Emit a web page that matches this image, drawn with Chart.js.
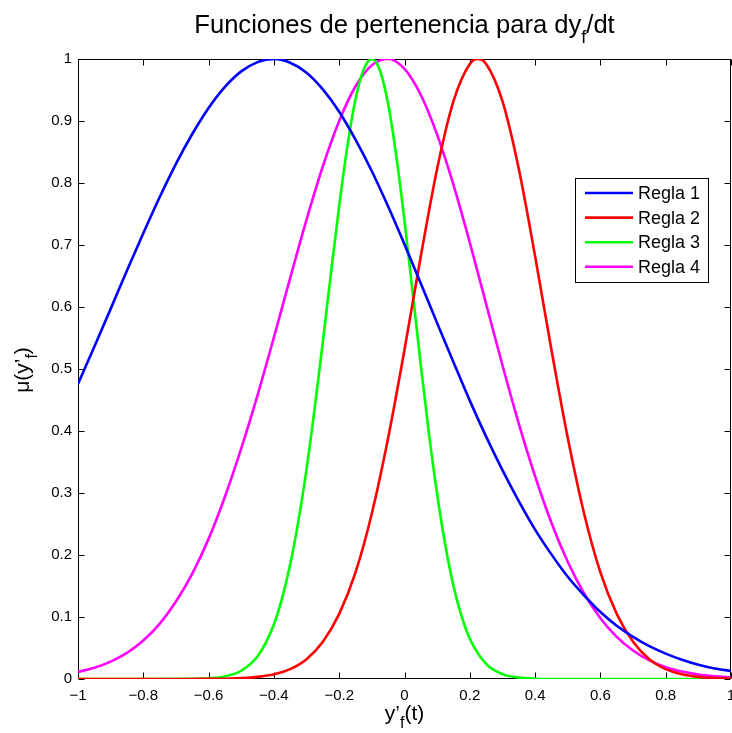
<!DOCTYPE html>
<html>
<head>
<meta charset="utf-8">
<script src="https://cdn.jsdelivr.net/npm/chart.js@4.4.1/dist/chart.umd.min.js"></script>
<style>
  body { margin: 0; background: #fff; }
  canvas { display: block; }
</style>
</head>
<body>
<canvas id="chart" width="732" height="733"></canvas>
<script>
// values
const seriesNames = ["Regla 1", "Regla 2", "Regla 3", "Regla 4"];
const seriesColors = ["#0000ff", "#ff0000", "#00ff00", "#ff00ff"];

const xBase = [-1, -0.95, -0.9, -0.85, -0.8, -0.75, -0.7, -0.65, -0.6, -0.55, -0.5,
  -0.45, -0.4, -0.35, -0.3, -0.25, -0.2, -0.15, -0.1, -0.05, 0,
  0.05, 0.1, 0.15, 0.2, 0.25, 0.3, 0.35, 0.4, 0.45, 0.5,
  0.55, 0.6, 0.65, 0.7, 0.75, 0.8, 0.85, 0.9, 0.95, 1];

const regla1 = [0.476, 0.536, 0.597, 0.659, 0.719, 0.777, 0.831, 0.879, 0.921, 0.955, 0.980,
  0.995, 1.000, 0.994, 0.978, 0.951, 0.915, 0.870, 0.819, 0.762, 0.701,
  0.638, 0.574, 0.511, 0.449, 0.391, 0.337, 0.287, 0.241, 0.201, 0.165,
  0.135, 0.108, 0.086, 0.068, 0.053, 0.041, 0.031, 0.023, 0.017, 0.013];

const xRegla2 = [-1, -0.9, -0.8, -0.7, -0.65, -0.6, -0.55, -0.5, -0.45, -0.4, -0.35,
  -0.3, -0.25, -0.2, -0.15, -0.1, -0.05, 0, 0.05, 0.1, 0.15, 0.2, 0.225,
  0.25, 0.3, 0.35, 0.4, 0.45, 0.5, 0.55, 0.6, 0.65, 0.7, 0.75, 0.8,
  0.85, 0.9, 0.95, 1];
const regla2 = [0, 0, 0, 0, 0.0001, 0.0002, 0.0005, 0.0014, 0.0034, 0.0076, 0.016,
  0.032, 0.060, 0.105, 0.172, 0.267, 0.389, 0.531, 0.682, 0.823, 0.932, 0.992, 1.000,
  0.992, 0.932, 0.823, 0.682, 0.531, 0.389, 0.267, 0.172, 0.105, 0.060, 0.032, 0.016,
  0.0076, 0.0034, 0.0014, 0.0005];

const xRegla3 = [-1, -0.8, -0.65, -0.6, -0.55, -0.5, -0.45, -0.4, -0.375, -0.35, -0.325,
  -0.3, -0.275, -0.25, -0.225, -0.2, -0.175, -0.15, -0.125, -0.1, -0.075,
  -0.05, -0.025, 0, 0.025, 0.05, 0.075, 0.1, 0.125, 0.15, 0.175,
  0.2, 0.25, 0.3, 0.35, 0.4, 0.5, 0.7, 1];
const regla3 = [0, 0, 0.0003, 0.0012, 0.0042, 0.0133, 0.0365, 0.088, 0.130, 0.185, 0.255,
  0.339, 0.437, 0.544, 0.656, 0.763, 0.859, 0.935, 0.983, 1.000, 0.981,
  0.927, 0.843, 0.739, 0.623, 0.506, 0.395, 0.298, 0.216, 0.150, 0.101,
  0.065, 0.0244, 0.0078, 0.0022, 0.0005, 0, 0, 0];

const regla4 = [0.0115, 0.018, 0.028, 0.042, 0.062, 0.089, 0.125, 0.170, 0.226, 0.294, 0.372,
  0.458, 0.551, 0.647, 0.741, 0.827, 0.900, 0.956, 0.990, 1.000, 0.984,
  0.942, 0.878, 0.797, 0.704, 0.605, 0.506, 0.412, 0.327, 0.252, 0.189,
  0.138, 0.098, 0.068, 0.046, 0.030, 0.019, 0.012, 0.0072, 0.0043, 0.0024];

const xList = [xBase, xRegla2, xRegla3, xBase];
const yList = [regla1, regla2, regla3, regla4];

const FONT = "'Liberation Sans', Arial, Helvetica, sans-serif";

function fmt(v) {
  const r = Math.round(v * 10) / 10;
  if (r === 0) return "0";
  return String(r).replace("-", "\u2212");
}

// text with a subscript part, centred on x
function drawRich(ctx, parts, x, y, size, subSize) {
  let total = 0;
  const widths = parts.map(p => {
    ctx.font = (p.sub ? subSize : size) + "px " + FONT;
    const w = ctx.measureText(p.t).width;
    total += w;
    return w;
  });
  let cx = x - total / 2;
  ctx.textAlign = "left";
  ctx.textBaseline = "alphabetic";
  parts.forEach((p, i) => {
    ctx.font = (p.sub ? subSize : size) + "px " + FONT;
    ctx.fillText(p.t, cx, p.sub ? y + size * 0.4 : y);
    cx += widths[i];
  });
}

const matlabFrame = {
  id: "matlabFrame",
  beforeDatasetsDraw(chart) {
    const ctx = chart.ctx;
    const a = chart.chartArea;
    const L = Math.round(a.left) + 0.5, R = Math.round(a.right) - 0.5;
    const T = Math.round(a.top) + 0.5, B = Math.round(a.bottom) - 0.5;
    ctx.save();
    ctx.strokeStyle = "#000";
    ctx.lineWidth = 1;
    ctx.strokeRect(L, T, R - L, B - T);
    ctx.beginPath();
    const tl = 6;
    chart.scales.x.ticks.forEach(t => {
      const px = Math.round(chart.scales.x.getPixelForValue(t.value)) + 0.5;
      ctx.moveTo(px, B); ctx.lineTo(px, B - tl);
      ctx.moveTo(px, T); ctx.lineTo(px, T + tl);
    });
    chart.scales.y.ticks.forEach(t => {
      const py = Math.round(chart.scales.y.getPixelForValue(t.value)) + 0.5;
      ctx.moveTo(L, py); ctx.lineTo(L + tl, py);
      ctx.moveTo(R, py); ctx.lineTo(R - tl, py);
    });
    ctx.stroke();
    ctx.restore();
  },
  afterDraw(chart) {
    const ctx = chart.ctx;
    const a = chart.chartArea;
    ctx.save();
    ctx.fillStyle = "#000";

    // title
    drawRich(ctx, [{ t: "Funciones de pertenencia para dy" }, { t: "f", sub: true }, { t: "/dt" }],
      (a.left + a.right) / 2, 33, 25.6, 18);
    // x label
    drawRich(ctx, [{ t: "y\u2019" }, { t: "f", sub: true }, { t: "(t)" }],
      (a.left + a.right) / 2, 720, 21, 16);
    // y label
    ctx.save();
    ctx.translate(29, 370);
    ctx.rotate(-Math.PI / 2);
    drawRich(ctx, [{ t: "\u03bc(y\u2019" }, { t: "f", sub: true }, { t: ")" }], 0, 0, 21, 16);
    ctx.restore();

    // legend box
    const bx = 575.5, by = 178.5, bw = 133, bh = 104;
    ctx.fillStyle = "#fff";
    ctx.fillRect(bx, by, bw, bh);
    ctx.strokeStyle = "#000";
    ctx.lineWidth = 1;
    ctx.strokeRect(bx, by, bw, bh);
    ctx.font = "18px " + FONT;
    ctx.textAlign = "left";
    ctx.textBaseline = "middle";
    chart.data.datasets.forEach((ds, i) => {
      const yy = 193 + i * 24.6;
      ctx.strokeStyle = ds.borderColor;
      ctx.lineWidth = 2.6;
      ctx.beginPath();
      ctx.moveTo(585, yy);
      ctx.lineTo(633, yy);
      ctx.stroke();
      ctx.fillStyle = "#000";
      ctx.fillText(ds.label, 638, yy + 1);
    });
    ctx.restore();
  }
};

new Chart(document.getElementById("chart"), {
  type: "line",
  data: {
    datasets: seriesNames.map((name, i) => ({
      label: name,
      data: xList[i].map((x, j) => ({ x: x, y: yList[i][j] })),
      borderColor: seriesColors[i],
      backgroundColor: seriesColors[i],
      borderWidth: 2.6,
      pointRadius: 0,
      cubicInterpolationMode: "monotone",
      fill: false
    }))
  },
  options: {
    responsive: false,
    animation: false,
    events: [],
    layout: { padding: { left: 0, right: 1, top: 59, bottom: 0 } },
    plugins: {
      legend: { display: false },
      title: { display: false },
      tooltip: { enabled: false }
    },
    scales: {
      x: {
        type: "linear",
        min: -1,
        max: 1,
        grid: { display: false, drawTicks: false },
        border: { display: false },
        ticks: {
          stepSize: 0.2,
          padding: 8,
          color: "#000",
          maxRotation: 0,
          font: { family: FONT, size: 15 },
          callback: v => fmt(v)
        },
        afterFit: s => { s.height = 54; s.paddingLeft = 0; s.paddingRight = 0; }
      },
      y: {
        min: 0,
        max: 1,
        grid: { display: false, drawTicks: false },
        border: { display: false },
        ticks: {
          stepSize: 0.1,
          padding: 6,
          color: "#000",
          font: { family: FONT, size: 15 },
          callback: v => fmt(v)
        },
        afterFit: s => { s.width = 78; s.paddingTop = 0; s.paddingBottom = 0; }
      }
    }
  },
  plugins: [matlabFrame]
});
</script>
</body>
</html>
